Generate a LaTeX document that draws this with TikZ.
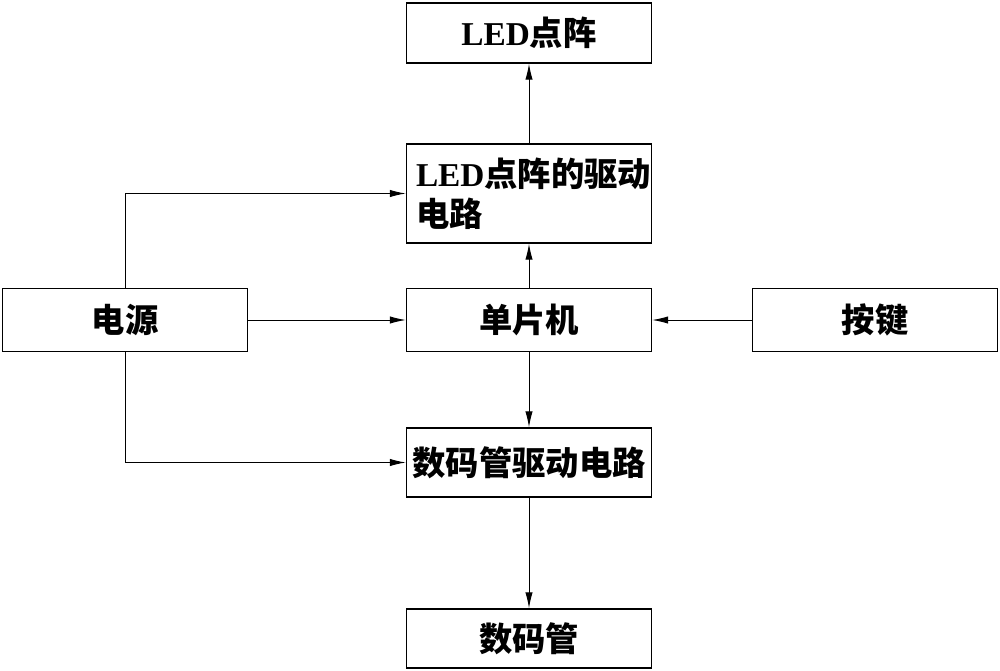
\documentclass[tikz,border=0pt]{standalone}
\usepackage{fontspec}
\usepackage{tikz}
\usetikzlibrary{arrows.meta}
\newfontfamily\cjk{Noto Sans CJK SC}
\newfontfamily\latn{Liberation Serif}
\tikzset{
  blockbox/.style={draw, line width=1pt, minimum width=183.75pt, inner sep=0pt, font=\cjk\bfseries\fontsize{25}{30}\selectfont},
  flowline/.style={line width=0.75pt, -{Latex[length=12pt,width=5.5pt]}}
}

\begin{document}
\begin{tikzpicture}[x=0.75pt,y=0.75pt,yscale=-1,xscale=1]
\useasboundingbox (0,0) rectangle (1000,671);

%Shape: Rectangle
\node [blockbox, minimum height=45pt] (led) at (529,33) {{\latn LED}点阵};
%Shape: Rectangle
\node [blockbox, minimum height=74.25pt, text width=169.5pt, inner xsep=7pt, align=left] (drv) at (529,193.5) {{\latn LED}点阵的驱动\\电路};
%Shape: Rectangle
\node [blockbox, minimum height=47.25pt] (pwr) at (125,320) {电源};
%Shape: Rectangle
\node [blockbox, minimum height=47.25pt] (mcu) at (529,320) {单片机};
%Shape: Rectangle
\node [blockbox, minimum height=47.25pt] (key) at (875,320) {按键};
%Shape: Rectangle
\node [blockbox, minimum height=51.75pt] (sdrv) at (529,462.5) {数码管驱动电路};
%Shape: Rectangle
\node [blockbox, minimum height=44.25pt] (seg) at (529,638.5) {数码管};

%Straight Lines
\draw [flowline] (pwr.north) |- (drv.west);
\draw [flowline] (pwr) -- (mcu);
\draw [flowline] (key) -- (mcu);
\draw [flowline] (mcu) -- (drv);
\draw [flowline] (drv) -- (led);
\draw [flowline] (mcu) -- (sdrv);
\draw [flowline] (pwr.south) |- (sdrv.west);
\draw [flowline] (sdrv) -- (seg);

\end{tikzpicture}
\end{document}
